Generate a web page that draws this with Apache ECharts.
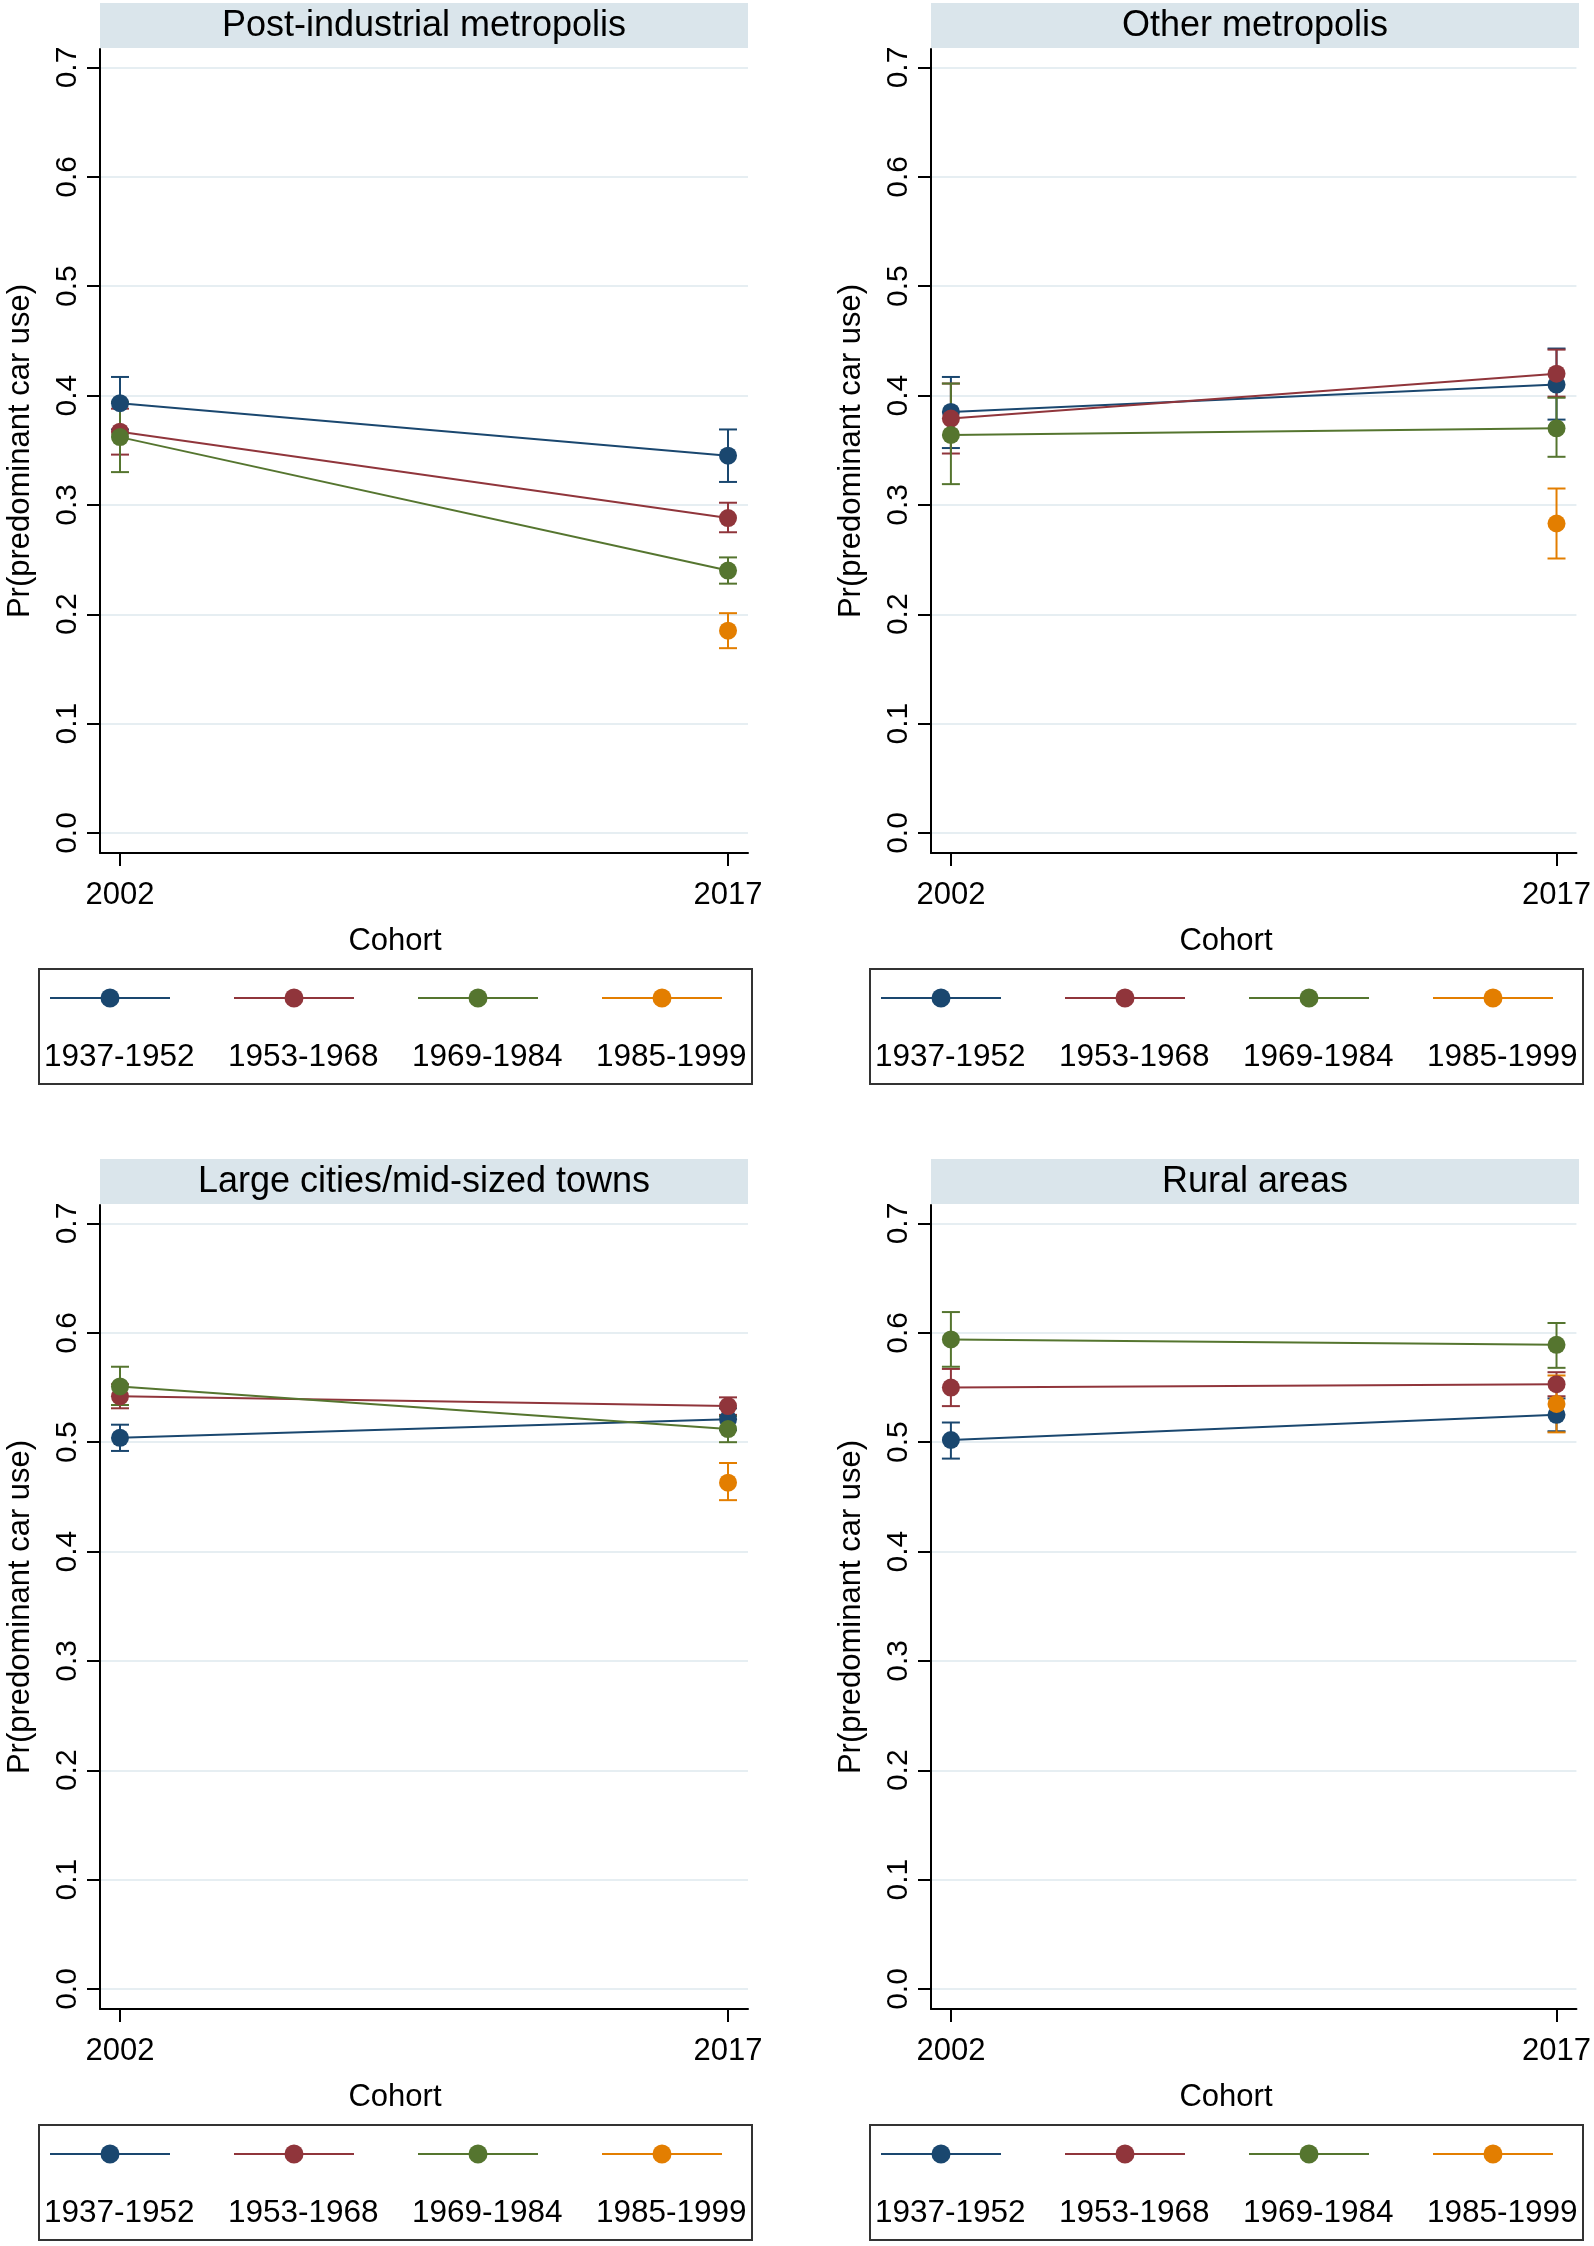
<!DOCTYPE html>
<html>
<head>
<meta charset="utf-8">
<script src="https://cdn.jsdelivr.net/npm/echarts@6/dist/echarts.min.js"></script>
<style>
  html, body { margin: 0; padding: 0; background: #fff; }
  #chart { width: 1594px; height: 2246px; }
</style>
</head>
<body>
<div id="chart"></div>
<script>
const years = [2002, 2017];
const cohorts = ['1937-1952', '1953-1968', '1969-1984', '1985-1999'];
const cohortColors = ['#1a476f', '#90353b', '#55752f', '#e37e00'];
const panelTitles = ['Post-industrial metropolis', 'Other metropolis', 'Large cities/mid-sized towns', 'Rural areas'];
const yTicks = [0, 0.1, 0.2, 0.3, 0.4, 0.5, 0.6, 0.7];

// per cohort: [2002, 2017], null = cohort not observed that year
const postIndEst  = [[0.393, 0.345], [0.367, 0.288], [0.362, 0.240], [null, 0.185]];
const postIndLow  = [[0.369, 0.321], [0.346, 0.275], [0.330, 0.228], [null, 0.169]];
const postIndHigh = [[0.417, 0.369], [0.388, 0.302], [0.394, 0.252], [null, 0.201]];

const otherMetEst  = [[0.385, 0.410], [0.379, 0.420], [0.364, 0.370], [null, 0.283]];
const otherMetLow  = [[0.352, 0.378], [0.347, 0.399], [0.319, 0.344], [null, 0.251]];
const otherMetHigh = [[0.417, 0.443], [0.411, 0.442], [0.411, 0.398], [null, 0.315]];

const largeCityEst  = [[0.504, 0.521], [0.542, 0.533], [0.551, 0.512], [null, 0.463]];
const largeCityLow  = [[0.492, 0.511], [0.531, 0.525], [0.534, 0.500], [null, 0.447]];
const largeCityHigh = [[0.516, 0.531], [0.553, 0.541], [0.569, 0.524], [null, 0.481]];

const ruralEst  = [[0.502, 0.525], [0.550, 0.553], [0.594, 0.589], [null, 0.535]];
const ruralLow  = [[0.485, 0.510], [0.533, 0.542], [0.569, 0.568], [null, 0.509]];
const ruralHigh = [[0.518, 0.540], [0.567, 0.564], [0.619, 0.609], [null, 0.561]];

const FONT = '"Liberation Sans", Arial, sans-serif';

const panels = [
  { title: panelTitles[0], est: postIndEst, low: postIndLow, high: postIndHigh, dx: 0, dy: 0 },
  { title: panelTitles[1], est: otherMetEst, low: otherMetLow, high: otherMetHigh, dx: 831, dy: 0 },
  { title: panelTitles[2], est: largeCityEst, low: largeCityLow, high: largeCityHigh, dx: 0, dy: 1156 },
  { title: panelTitles[3], est: ruralEst, low: ruralLow, high: ruralHigh, dx: 831, dy: 1156 }
];

const chart = echarts.init(document.getElementById('chart'));

const grids = [], xAxes = [], yAxes = [], series = [], graphics = [];

panels.forEach((p, k) => {
  grids.push({ left: 100 + p.dx, top: 49 + p.dy, width: 648, height: 804 });

  xAxes.push({
    gridIndex: k, type: 'value', min: 2001.507, max: 2017.493,
    axisLine: { onZero: false, lineStyle: { color: '#000', width: 2 } },
    axisTick: { customValues: years, length: 13, lineStyle: { color: '#000', width: 2 } },
    axisLabel: {
      customValues: years, color: '#000', fontSize: 31, fontFamily: FONT, margin: 27,
      formatter: v => String(v)
    },
    splitLine: { show: false }
  });

  yAxes.push({
    gridIndex: k, type: 'value', min: -0.0183, max: 0.7169,
    name: 'Pr(predominant car use)', nameLocation: 'middle', nameRotate: 90, nameGap: 64,
    nameTextStyle: { color: '#000', fontSize: 31, fontFamily: FONT },
    axisLine: { show: true, onZero: false, lineStyle: { color: '#000', width: 2 } },
    axisTick: { show: true, customValues: yTicks, length: 13, lineStyle: { color: '#000', width: 2 } },
    axisLabel: {
      customValues: yTicks, rotate: 90, color: '#000', fontSize: 30, fontFamily: FONT, margin: 17,
      formatter: v => v.toFixed(1)
    },
    splitLine: { show: true, lineStyle: { color: '#e6eef2', width: 2 } }
  });

  // confidence interval caps
  const ciData = [];
  p.est.forEach((row, c) => {
    years.forEach((yr, j) => {
      if (row[j] != null) ciData.push({ value: [yr, p.low[c][j], p.high[c][j]], itemStyle: { color: cohortColors[c] } });
    });
  });
  series.push({
    type: 'custom', xAxisIndex: k, yAxisIndex: k, z: 2, silent: true,
    data: ciData,
    renderItem: (params, api) => {
      const lo = api.coord([api.value(0), api.value(1)]);
      const hi = api.coord([api.value(0), api.value(2)]);
      const col = api.visual('color');
      const st = { stroke: col, lineWidth: 2 };
      return {
        type: 'group',
        children: [
          { type: 'line', shape: { x1: lo[0], y1: lo[1], x2: hi[0], y2: hi[1] }, style: st },
          { type: 'line', shape: { x1: lo[0] - 9, y1: lo[1], x2: lo[0] + 9, y2: lo[1] }, style: st },
          { type: 'line', shape: { x1: hi[0] - 9, y1: hi[1], x2: hi[0] + 9, y2: hi[1] }, style: st }
        ]
      };
    }
  });

  cohorts.forEach((name, c) => {
    const pts = [];
    years.forEach((yr, j) => { if (p.est[c][j] != null) pts.push([yr, p.est[c][j]]); });
    series.push({
      type: 'line', name: name, xAxisIndex: k, yAxisIndex: k, z: 3, silent: true,
      data: pts, symbol: 'circle', symbolSize: 18, showSymbol: true,
      lineStyle: { color: cohortColors[c], width: 2 },
      itemStyle: { color: cohortColors[c] },
      animation: false
    });
  });

  // facet strip
  graphics.push({
    type: 'rect', shape: { x: 100 + p.dx, y: 3 + p.dy, width: 648, height: 45 },
    style: { fill: '#dae5eb' }, silent: true
  });
  graphics.push({
    type: 'text', x: 424 + p.dx, y: 26 + p.dy,
    style: { text: p.title, fill: '#000', font: '36px ' + FONT, align: 'center', verticalAlign: 'middle' }
  });
  graphics.push({
    type: 'text', x: 395 + p.dx, y: 941 + p.dy,
    style: { text: 'Cohort', fill: '#000', font: '31px ' + FONT, align: 'center', verticalAlign: 'middle' }
  });

  // legend box
  graphics.push({
    type: 'rect', shape: { x: 39 + p.dx, y: 969 + p.dy, width: 713, height: 115 },
    style: { fill: 'none', stroke: '#333', lineWidth: 2 }, silent: true
  });
  cohorts.forEach((name, c) => {
    const x0 = 46 + p.dx + c * 184;
    graphics.push({
      type: 'line', shape: { x1: x0 + 4, y1: 998 + p.dy, x2: x0 + 124, y2: 998 + p.dy },
      style: { stroke: cohortColors[c], lineWidth: 2 }
    });
    graphics.push({
      type: 'circle', shape: { cx: x0 + 64, cy: 998 + p.dy, r: 9.5 },
      style: { fill: cohortColors[c] }
    });
    graphics.push({
      type: 'text', x: x0 - 2, y: 1057 + p.dy,
      style: { text: name, fill: '#000', font: '31.5px ' + FONT, align: 'left', verticalAlign: 'middle' }
    });
  });
});

chart.setOption({
  backgroundColor: '#fff',
  animation: false,
  grid: grids,
  xAxis: xAxes,
  yAxis: yAxes,
  series: series,
  graphic: graphics
});
</script>
</body>
</html>
